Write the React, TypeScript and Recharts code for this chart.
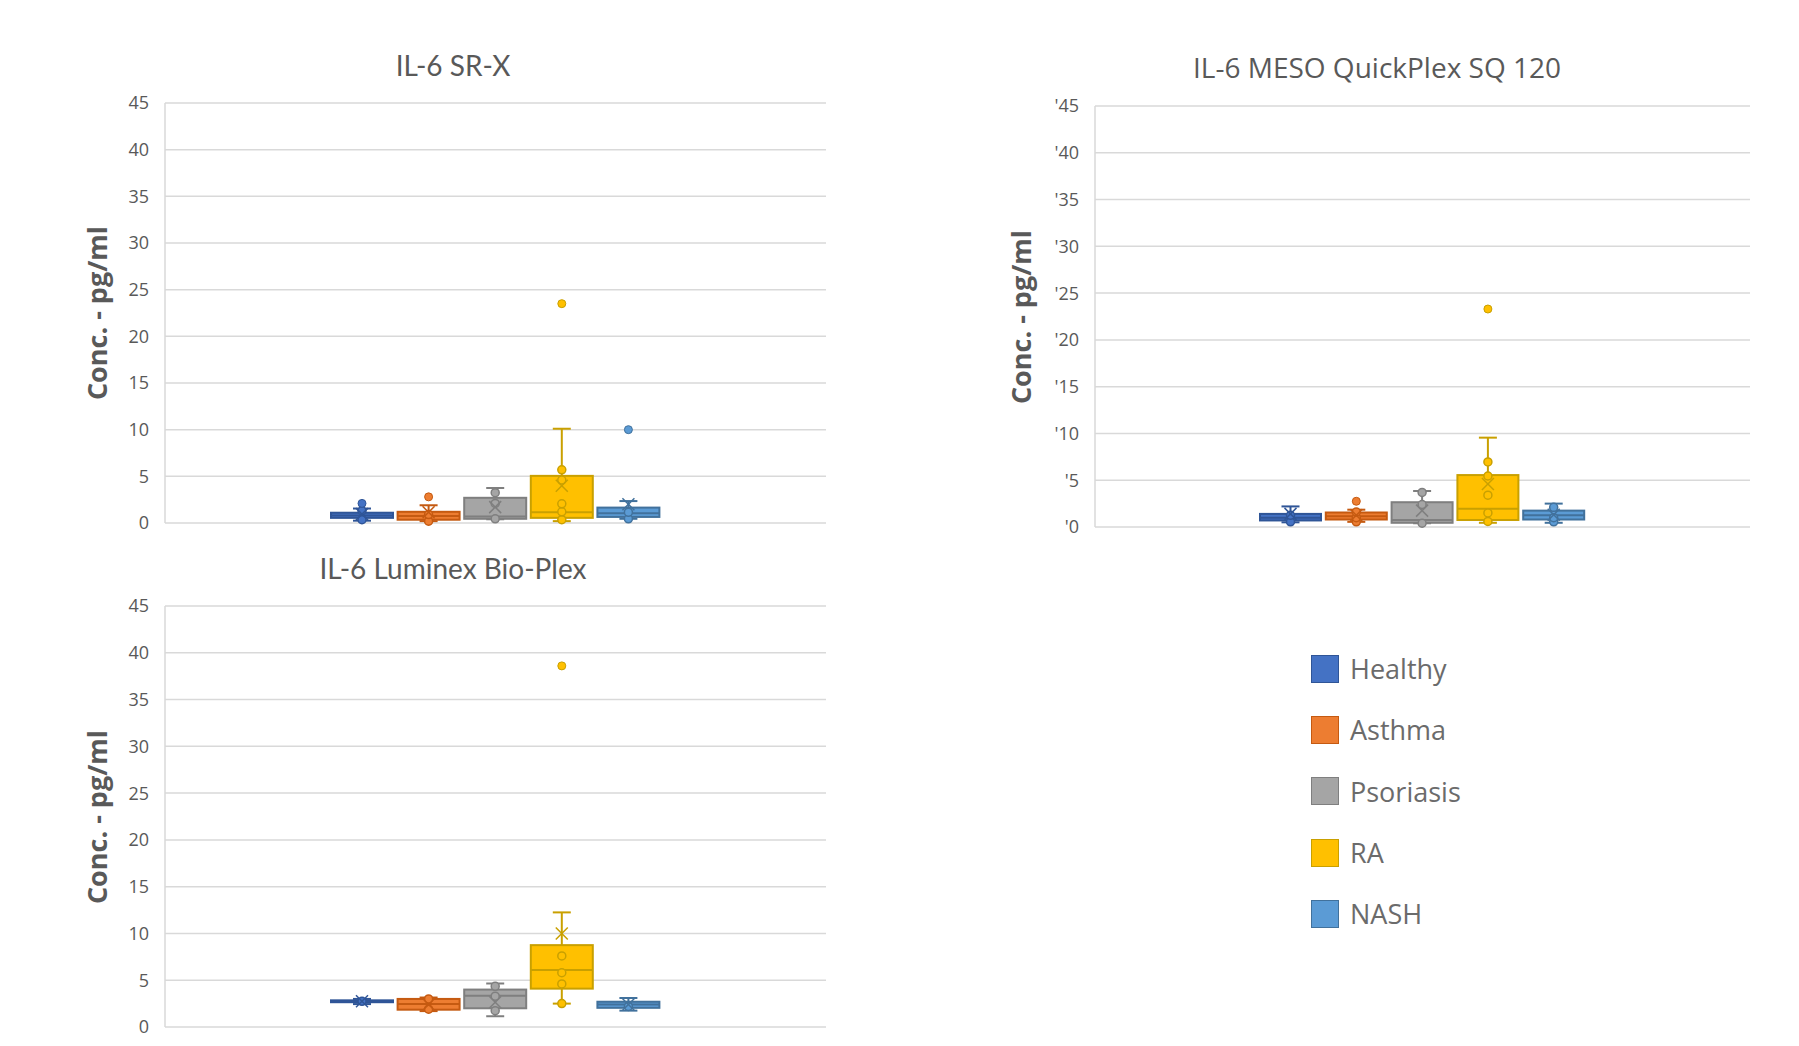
import React from "react";
import { ComposedChart, Bar, XAxis, YAxis, CartesianGrid } from "recharts";

const GROUPS = ["Healthy", "Asthma", "Psoriasis", "RA", "NASH"];
const Y_TICKS = [0, 5, 10, 15, 20, 25, 30, 35, 40, 45];
const MESO_TICK_LABELS = ["'0", "'5", "'10", "'15", "'20", "'25", "'30", "'35", "'40", "'45"];

// IL-6 SR-X
const srxMin = [0.25, 0.2, 0.4, 0.2, 0.45];
const srxQ1 = [0.55, 0.35, 0.45, 0.55, 0.65];
const srxMedian = [0.8, 0.75, 0.7, 1.15, 1.05];
const srxQ3 = [1.1, 1.2, 2.7, 5.05, 1.65];
const srxMax = [1.55, 1.9, 3.75, 10.1, 2.35];
const srxMean = [0.95, 1.15, 1.7, 4.0, 2.0];
const srxPoints = [[0.35, 1.3], [0.2, 0.9], [0.45, 2.1, 3.25], [0.35, 1.2, 2.05, 4.6, 5.7], [0.45, 1.15]];
const srxOutliers = [[2.1], [2.8], [], [23.5], [10.0]];

// IL-6 MESO QuickPlex SQ 120
const mesoMin = [0.5, 0.55, 0.4, 0.45, 0.45];
const mesoQ1 = [0.7, 0.8, 0.45, 0.75, 0.8];
const mesoMedian = [1.0, 1.15, 0.75, 1.95, 1.25];
const mesoQ3 = [1.4, 1.55, 2.65, 5.55, 1.75];
const mesoMax = [2.2, 1.85, 3.85, 9.55, 2.5];
const mesoMean = [1.4, 1.25, 1.75, 4.6, 1.3];
const mesoPoints = [[0.55, 1.25], [0.55, 1.0, 1.6], [0.4, 2.4, 3.7], [0.6, 1.5, 3.4, 5.45, 6.95], [0.55, 1.0, 2.1]];
const mesoOutliers = [[], [2.75], [], [23.3], []];

// IL-6 Luminex Bio-Plex
const lumMin = [2.45, 1.7, 1.15, 2.5, 1.75];
const lumQ1 = [2.65, 1.85, 2.0, 4.1, 2.05];
const lumMedian = [2.75, 2.45, 3.35, 6.1, 2.4];
const lumQ3 = [2.85, 3.0, 4.0, 8.75, 2.7];
const lumMax = [3.0, 3.15, 4.65, 12.25, 3.1];
const lumMean = [2.75, 2.4, 2.65, 10.0, 2.4];
const lumPoints = [[2.75], [1.9, 3.0], [1.75, 3.3, 4.35], [2.5, 4.6, 5.8, 7.6], [2.2]];
const lumOutliers = [[], [], [], [38.6], []];

const FILLS = ["#4472C4", "#ED7D31", "#A5A5A5", "#FFC000", "#5B9BD5"];
const STROKES = ["#2F5597", "#C55A11", "#7F7F7F", "#C9A000", "#41719C"];

function buildRows(
  min: number[], q1: number[], med: number[], q3: number[], max: number[],
  mean: number[], points: number[][], outliers: number[][]
) {
  return GROUPS.map((name, i) => ({
    name,
    range: [min[i], max[i]],
    min: min[i],
    q1: q1[i],
    median: med[i],
    q3: q3[i],
    max: max[i],
    mean: mean[i],
    points: points[i],
    outliers: outliers[i],
  }));
}

const srxRows = buildRows(srxMin, srxQ1, srxMedian, srxQ3, srxMax, srxMean, srxPoints, srxOutliers);
const mesoRows = buildRows(mesoMin, mesoQ1, mesoMedian, mesoQ3, mesoMax, mesoMean, mesoPoints, mesoOutliers);
const lumRows = buildRows(lumMin, lumQ1, lumMedian, lumQ3, lumMax, lumMean, lumPoints, lumOutliers);

// the bar spans min..max, so its pixel box gives the y scale for the rest of the box plot
function BoxShape(props: any) {
  const { x, y, width, height, payload } = props;
  const i = GROUPS.indexOf(payload.name);
  const fill = FILLS[i];
  const stroke = STROKES[i];
  const top = Math.min(y, y + height);
  const bottom = Math.max(y, y + height);
  const lo = payload.min;
  const hi = payload.max;
  const toY = (v: number) => bottom - ((v - lo) / (hi - lo)) * (bottom - top);
  const cx = x + width / 2;
  const cap = 9;
  const yQ1 = toY(payload.q1);
  const yQ3 = toY(payload.q3);
  const yMed = toY(payload.median);
  const yMean = toY(payload.mean);
  return (
    <g>
      <line x1={cx} x2={cx} y1={top} y2={bottom} stroke={stroke} strokeWidth={2} />
      <line x1={cx - cap} x2={cx + cap} y1={top} y2={top} stroke={stroke} strokeWidth={2} />
      <line x1={cx - cap} x2={cx + cap} y1={bottom} y2={bottom} stroke={stroke} strokeWidth={2} />
      <rect x={x} y={yQ3} width={width} height={Math.max(yQ1 - yQ3, 1)} fill={fill} stroke={stroke} strokeWidth={2} />
      <line x1={x} x2={x + width} y1={yMed} y2={yMed} stroke={stroke} strokeWidth={2} />
      {payload.points.map((p: number, k: number) => (
        <circle key={"p" + k} cx={cx} cy={toY(p)} r={4} fill={fill} stroke={stroke} strokeWidth={1.5} />
      ))}
      <line x1={cx - 6} x2={cx + 6} y1={yMean - 6} y2={yMean + 6} stroke={stroke} strokeWidth={1.5} />
      <line x1={cx - 6} x2={cx + 6} y1={yMean + 6} y2={yMean - 6} stroke={stroke} strokeWidth={1.5} />
      {payload.outliers.map((p: number, k: number) => (
        <circle key={"o" + k} cx={cx} cy={toY(p)} r={4} fill={fill} stroke={stroke} strokeWidth={1} />
      ))}
    </g>
  );
}

interface PanelProps {
  rows: any[];
  title: string;
  titleFont: string;
  left: number;
  top: number;
  width: number;
  height: number;
  margin: { top: number; right: number; bottom: number; left: number };
  padding: number;
  barSize: number;
  tickLabels?: string[];
  titleX: number;
  titleY: number;
  yTitleX: number;
}

function Panel(p: PanelProps) {
  const plotTop = p.margin.top;
  const plotBottom = p.height - p.margin.bottom;
  const yMid = (plotTop + plotBottom) / 2;
  return (
    <div style={{ position: "absolute", left: p.left, top: p.top, width: p.width, height: p.height }}>
      <div
        style={{
          position: "absolute",
          left: p.titleX - 300,
          top: p.titleY - 20,
          width: 600,
          height: 40,
          lineHeight: "40px",
          textAlign: "center",
          fontFamily: p.titleFont,
          fontSize: 28,
          color: "#595959",
          whiteSpace: "nowrap",
        }}
      >
        {p.title}
      </div>
      <div
        style={{
          position: "absolute",
          left: p.yTitleX - 150,
          top: yMid - 20,
          width: 300,
          height: 40,
          lineHeight: "40px",
          textAlign: "center",
          transform: "rotate(-90deg)",
          fontFamily: "Open Sans",
          fontWeight: 700,
          fontSize: 27,
          color: "#595959",
          whiteSpace: "nowrap",
        }}
      >
        Conc. - pg/ml
      </div>
      <ComposedChart width={p.width} height={p.height} data={p.rows} margin={p.margin} style={{ position: "absolute", left: 0, top: 0 }}>
        <CartesianGrid vertical={false} stroke="#d9d9d9" strokeWidth={1.5} />
        <XAxis dataKey="name" type="category" hide padding={{ left: p.padding, right: p.padding }} />
        <YAxis
          type="number"
          domain={[0, 45]}
          ticks={Y_TICKS}
          width={165}
          interval={0}
          axisLine={{ stroke: "#d9d9d9", strokeWidth: 1.5 }}
          tickLine={false}
          tickSize={6}
          tickMargin={10}
          tickFormatter={(v: number) => (p.tickLabels ? p.tickLabels[Y_TICKS.indexOf(v)] : String(v))}
          tick={{ fill: "#595959", fontSize: 18, fontFamily: "Open Sans" }}
        />
        <Bar dataKey="range" barSize={p.barSize} shape={BoxShape} isAnimationActive={false} />
      </ComposedChart>
    </div>
  );
}

function Legend() {
  return (
    <div style={{ position: "absolute", left: 1311, top: 638 }}>
      {GROUPS.map((g, i) => (
        <div key={g} style={{ display: "flex", alignItems: "center", height: 61.3 }}>
          <div
            style={{
              width: 28,
              height: 28,
              background: FILLS[i],
              border: "1px solid " + STROKES[i],
              boxSizing: "border-box",
            }}
          />
          <span
            style={{
              marginLeft: 11,
              fontFamily: "Open Sans",
              fontSize: 27,
              color: "#6b6b6b",
            }}
          >
            {g}
          </span>
        </div>
      ))}
    </div>
  );
}

export default function App() {
  return (
    <div style={{ position: "fixed", left: 0, top: 0, width: 1799, height: 1046, background: "#ffffff", overflow: "hidden" }}>
      <Panel
        rows={srxRows}
        title="IL-6 SR-X"
        titleFont="Lato"
        left={0}
        top={0}
        width={900}
        height={560}
        margin={{ top: 103, right: 74, bottom: 37, left: 0 }}
        padding={164}
        barSize={62}
        titleX={453}
        titleY={65}
        yTitleX={97}
      />
      <Panel
        rows={mesoRows}
        title="IL-6 MESO QuickPlex SQ 120"
        titleFont="Open Sans"
        left={930}
        top={0}
        width={850}
        height={560}
        margin={{ top: 106, right: 30, bottom: 33, left: 0 }}
        padding={163}
        barSize={61}
        tickLabels={MESO_TICK_LABELS}
        titleX={447}
        titleY={67}
        yTitleX={91}
      />
      <Panel
        rows={lumRows}
        title="IL-6 Luminex Bio-Plex"
        titleFont="Lato"
        left={0}
        top={500}
        width={900}
        height={560}
        margin={{ top: 106, right: 74, bottom: 33, left: 0 }}
        padding={164}
        barSize={62}
        titleX={453}
        titleY={68}
        yTitleX={97}
      />
      <Legend />
    </div>
  );
}
